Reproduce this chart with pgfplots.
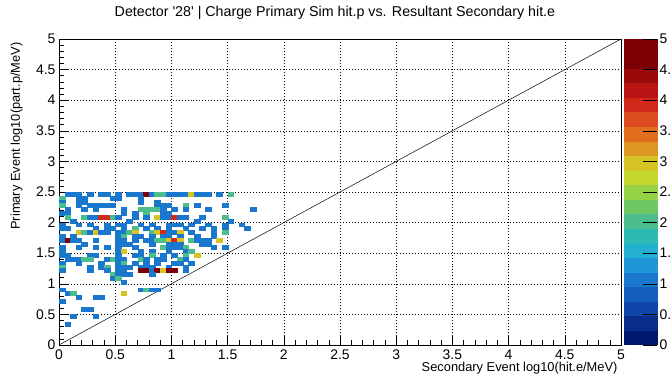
\documentclass[border=0pt]{standalone}
\usepackage{pgfplots}
\pgfplotsset{compat=1.18}
\usepackage{fontspec}
\setmainfont{Liberation Sans}
\definecolor{vA}{RGB}{25,120,205}
\definecolor{vB}{RGB}{75,190,140}
\definecolor{vC}{RGB}{215,195,35}
\definecolor{vD}{RGB}{210,40,25}
\definecolor{vE}{RGB}{125,0,5}
\pgfplotsset{colormap={rootrainbow}{
 rgb255=(0,25,110) rgb255=(10,45,140) rgb255=(15,70,170) rgb255=(20,95,190)
 rgb255=(25,120,205) rgb255=(30,150,215) rgb255=(35,175,210) rgb255=(45,185,180)
 rgb255=(75,190,140) rgb255=(110,200,100) rgb255=(150,210,70) rgb255=(195,215,45)
 rgb255=(215,195,35) rgb255=(220,150,35) rgb255=(225,110,30) rgb255=(220,75,30)
 rgb255=(210,40,25) rgb255=(185,20,20) rgb255=(155,10,10) rgb255=(125,0,5)
 rgb255=(125,0,5)}}
\begin{document}
\begin{tikzpicture}
\begin{axis}[
  at={(0,0)}, anchor=south west,
  scale only axis, width=562bp, height=306bp,
  xmin=0, xmax=5, ymin=0, ymax=5,
  xtick={0,0.5,...,5}, ytick={0,0.5,...,5},
  minor tick num=4,
  tick align=inside, tick pos=left,
  major tick length=9bp, minor tick length=4.5bp,
  tick style={black, line width=0.5pt},
  grid=major, major grid style={black, line width=0.4pt, dash pattern=on 0.8pt off 2.2pt},
  axis line style={line width=0.6pt},
  ticklabel style={font=\fontsize{14}{16}\selectfont},
  xticklabel style={yshift=-1bp},
  /pgf/number format/assume math mode=true,
  xlabel={Secondary Event log10(hit.e/MeV)},
  xlabel style={at={(axis description cs:1,0)}, anchor=base east, yshift=-26bp, font=\fontsize{12.9}{15}\selectfont},
  ylabel={Primary Event log10(part.p/MeV)},
  ylabel style={at={(axis description cs:-0.0694,1)}, anchor=base east, rotate=0, font=\fontsize{12.9}{15}\selectfont},
  title={Detector \textquotesingle28\textquotesingle\ | Charge Primary Sim hit.p vs. Resultant Secondary hit.e},
  title style={at={(axis description cs:0.491,1)}, anchor=base, yshift=17bp, font=\fontsize{14.3}{17}\selectfont},
  colormap name=rootrainbow, colormap access=piecewise constant,
  point meta min=0, point meta max=5,
  colorbar,
  colorbar shift/.style={xshift=3bp},
  colorbar/width=33bp,
  colorbar style={at={(parent axis.north east)}, anchor=north west,
    scale only axis, width=33bp, height=306bp,
    ytick={0,0.5,...,5}, minor tick num=0,
    tick align=inside, ytick pos=right, yticklabel pos=right,
    major tick length=14bp, ytick style={black, line width=0.5pt},
    axis line style={draw=none},
    yticklabel style={anchor=west, xshift=-1bp, font=\fontsize{14}{16}\selectfont},
    /pgf/number format/assume math mode=true},
]
\addplot[scatter, only marks, scatter src=explicit symbolic, mark=square*, mark size=2.85bp,
  every mark/.append style={yscale=0.69, line width=0.05pt},
  scatter/classes={1={draw=vA,fill=vA}, 2={draw=vB,fill=vB}, 3={draw=vC,fill=vC}, 4={draw=vD,fill=vD}, 5={draw=vE,fill=vE}}]
table[meta=c] {
x y c
0.075 2.46875 1
0.125 2.46875 1
0.175 2.46875 1
0.275 2.46875 1
0.375 2.46875 1
0.425 2.46875 1
0.525 2.46875 1
0.625 2.46875 1
0.675 2.46875 1
0.725 2.46875 1
0.775 2.46875 5
0.825 2.46875 1
0.875 2.46875 2
0.925 2.46875 2
0.975 2.46875 1
1.025 2.46875 1
1.075 2.46875 1
1.125 2.46875 1
1.175 2.46875 3
1.225 2.46875 1
1.275 2.46875 1
1.325 2.46875 1
1.425 2.46875 1
1.525 2.46875 2
0.025 2.40625 2
0.175 2.40625 1
0.225 2.40625 1
0.475 2.40625 1
0.525 2.40625 1
0.725 2.40625 1
0.025 2.34375 1
0.175 2.34375 1
0.225 2.34375 1
0.725 2.34375 1
0.875 2.34375 1
0.025 2.28125 2
0.175 2.28125 1
0.275 2.28125 1
0.325 2.28125 1
0.375 2.28125 1
0.425 2.28125 1
0.475 2.28125 1
0.875 2.28125 1
0.925 2.28125 1
0.975 2.28125 1
1.125 2.28125 2
1.225 2.28125 1
1.475 2.28125 1
0.075 2.21875 1
0.225 2.21875 1
0.325 2.21875 1
0.575 2.21875 1
0.725 2.21875 2
0.775 2.21875 2
0.825 2.21875 2
0.875 2.21875 2
0.925 2.21875 1
1.025 2.21875 1
1.125 2.21875 1
1.325 2.21875 1
1.725 2.21875 1
0.025 2.15625 1
0.075 2.15625 1
0.575 2.15625 1
0.675 2.15625 1
0.775 2.15625 2
0.925 2.15625 1
0.975 2.15625 1
0.075 2.09375 2
0.225 2.09375 2
0.275 2.09375 1
0.325 2.09375 1
0.375 2.09375 4
0.425 2.09375 4
0.475 2.09375 2
0.525 2.09375 1
0.675 2.09375 1
0.775 2.09375 1
0.875 2.09375 3
0.925 2.09375 1
0.975 2.09375 1
1.025 2.09375 4
1.075 2.09375 1
1.125 2.09375 1
1.275 2.09375 1
1.475 2.09375 2
0.125 2.03125 1
0.625 2.03125 1
1.225 2.03125 1
1.525 2.03125 1
0.025 1.96875 1
0.175 1.96875 1
0.275 1.96875 1
0.425 1.96875 1
0.525 1.96875 1
0.575 1.96875 1
0.725 1.96875 1
0.825 1.96875 1
0.975 1.96875 1
1.025 1.96875 1
1.075 1.96875 1
1.175 1.96875 1
1.325 1.96875 1
1.475 1.96875 1
1.625 1.96875 1
0.025 1.90625 1
0.075 1.90625 1
0.325 1.90625 1
0.425 1.90625 1
0.475 1.90625 1
0.575 1.90625 1
0.675 1.90625 2
0.775 1.90625 1
0.875 1.90625 1
0.975 1.90625 1
1.125 1.90625 1
1.275 1.90625 1
1.375 1.90625 1
1.475 1.90625 1
1.675 1.90625 1
0.175 1.84375 3
0.225 1.84375 2
0.275 1.84375 1
0.325 1.84375 3
0.375 1.84375 1
0.425 1.84375 1
0.525 1.84375 1
0.575 1.84375 1
0.625 1.84375 2
0.675 1.84375 3
0.825 1.84375 2
0.875 1.84375 3
0.925 1.84375 4
0.975 1.84375 1
1.025 1.84375 1
1.075 1.84375 3
1.175 1.84375 1
1.375 1.84375 1
1.475 1.84375 2
0.025 1.78125 1
0.125 1.78125 1
0.525 1.78125 1
0.575 1.78125 2
0.675 1.78125 1
0.725 1.78125 1
0.825 1.78125 1
0.925 1.78125 1
0.975 1.78125 1
1.075 1.78125 1
1.225 1.78125 1
1.375 1.78125 1
0.025 1.71875 1
0.075 1.71875 5
0.125 1.71875 1
0.175 1.71875 1
0.325 1.71875 1
0.525 1.71875 1
0.575 1.71875 1
0.675 1.71875 1
0.775 1.71875 1
0.825 1.71875 1
0.875 1.71875 2
0.925 1.71875 2
0.975 1.71875 3
1.025 1.71875 4
1.075 1.71875 3
1.175 1.71875 2
1.225 1.71875 1
1.275 1.71875 1
1.325 1.71875 1
1.425 1.71875 3
0.225 1.65625 1
0.525 1.65625 1
0.575 1.65625 1
0.625 1.65625 1
0.825 1.65625 1
0.975 1.65625 1
1.025 1.65625 1
1.075 1.65625 1
1.275 1.65625 1
1.325 1.65625 1
0.025 1.59375 1
0.175 1.59375 1
0.325 1.59375 1
0.425 1.59375 1
0.525 1.59375 1
0.675 1.59375 1
0.925 1.59375 2
0.975 1.59375 1
1.025 1.59375 1
1.075 1.59375 1
1.125 1.59375 2
1.375 1.59375 1
1.475 1.59375 1
0.025 1.53125 1
0.525 1.53125 1
0.575 1.53125 3
0.725 1.53125 1
0.825 1.53125 1
0.975 1.53125 1
1.125 1.53125 1
1.175 1.53125 2
0.025 1.46875 1
0.075 1.46875 1
0.275 1.46875 1
0.325 1.46875 1
0.525 1.46875 1
0.675 1.46875 1
0.725 1.46875 1
0.825 1.46875 2
0.925 1.46875 1
1.025 1.46875 1
1.125 1.46875 2
1.225 1.46875 3
0.075 1.40625 1
0.125 1.40625 1
0.175 1.40625 1
0.225 1.40625 2
0.275 1.40625 2
0.425 1.40625 1
0.475 1.40625 2
0.525 1.40625 1
0.575 1.40625 1
0.725 1.40625 2
0.775 1.40625 1
0.875 1.40625 1
0.925 1.40625 1
1.075 1.40625 2
1.125 1.40625 1
0.025 1.34375 1
0.175 1.34375 1
0.375 1.34375 1
0.525 1.34375 1
0.575 1.34375 2
0.675 1.34375 1
0.775 1.34375 1
0.875 1.34375 1
1.025 1.34375 1
1.075 1.34375 1
1.175 1.34375 1
0.025 1.28125 2
0.275 1.28125 1
0.375 1.28125 1
0.425 1.28125 2
0.525 1.28125 1
0.575 1.28125 1
0.625 1.28125 1
0.725 1.28125 1
0.775 1.28125 1
0.825 1.28125 1
0.975 1.28125 1
1.125 1.28125 1
0.025 1.21875 1
0.275 1.21875 1
0.425 1.21875 1
0.525 1.21875 1
0.575 1.21875 1
0.725 1.21875 5
0.775 1.21875 5
0.825 1.21875 1
0.875 1.21875 5
0.925 1.21875 3
0.975 1.21875 5
1.025 1.21875 5
1.125 1.21875 1
0.475 1.15625 2
0.525 1.15625 1
0.575 1.15625 1
0.625 1.15625 1
0.825 1.15625 1
0.475 1.09375 1
0.525 1.09375 2
0.575 1.03125 1
0.025 0.90625 1
0.725 0.90625 1
0.775 0.90625 2
0.825 0.90625 1
0.875 0.90625 1
0.075 0.84375 1
0.125 0.84375 2
0.575 0.84375 3
0.175 0.78125 1
0.325 0.78125 1
0.375 0.78125 1
0.025 0.71875 1
0.225 0.59375 1
0.275 0.59375 1
0.125 0.46875 1
0.325 0.46875 1
0.075 0.34375 1
};
\addplot[black, line width=0.5pt, no marks] coordinates {(0,0) (5,5)};
\end{axis}
\pgfresetboundingbox
\useasboundingbox (-59bp,-30bp) rectangle (611bp,345bp);
\end{tikzpicture}
\end{document}
